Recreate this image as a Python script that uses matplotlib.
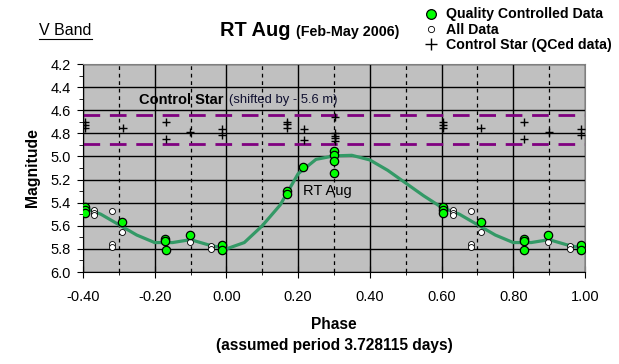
import numpy as np
import matplotlib
matplotlib.use('Agg')
import matplotlib.pyplot as plt
from matplotlib.lines import Line2D
from matplotlib.ticker import MultipleLocator, FormatStrFormatter

plt.rcParams['font.family'] = ['Liberation Sans', 'DejaVu Sans']

# Quality controlled data (phase 0..1, V magnitude)
qc_phase = [0.168, 0.168, 0.214, 0.301, 0.301, 0.301, 0.301, 0.605, 0.605, 0.605,
            0.709, 0.830, 0.830, 0.831, 0.898, 0.989, 0.989]
qc_mag = [5.30, 5.325, 5.09, 4.95, 4.99, 5.04, 5.14, 5.44, 5.465, 5.49,
          5.565, 5.71, 5.73, 5.81, 5.68, 5.77, 5.81]

# extra points present only in "All Data"
all_phase = [0.631, 0.631, 0.631, 0.681, 0.709, 0.681, 0.681, 0.830, 0.898, 0.958, 0.958]
all_mag = [5.46, 5.485, 5.51, 5.47, 5.65, 5.755, 5.78, 5.74, 5.74, 5.775, 5.80]

# Control star (shifted by -5.6 m)
cs_phase = [0.168, 0.168, 0.168, 0.216, 0.216, 0.303, 0.303, 0.303, 0.303, 0.303,
            0.605, 0.605, 0.605, 0.711, 0.831, 0.831, 0.899, 0.989, 0.989]
cs_mag = [4.70, 4.72, 4.75, 4.765, 4.86, 4.655, 4.80, 4.82, 4.84, 4.87,
          4.70, 4.725, 4.75, 4.756, 4.705, 4.845, 4.79, 4.762, 4.814]

# fitted light curve
fit_phase = [0.00, 0.05, 0.10, 0.15, 0.20, 0.25, 0.30, 0.35, 0.40, 0.45, 0.50,
             0.55, 0.60, 0.65, 0.70, 0.75, 0.80, 0.85, 0.90, 0.95, 1.00]
fit_mag = [5.80, 5.745, 5.60, 5.42, 5.15, 5.025, 4.995, 4.99, 5.03, 5.12, 5.23,
           5.34, 5.44, 5.50, 5.59, 5.68, 5.745, 5.745, 5.72, 5.765, 5.80]

control_band = [4.645, 4.89]


def wrap(phase, mag):
    # show phases >= 0.6 a second time at phase - 1
    p = np.array(phase)
    m = np.array(mag)
    sel = p >= 0.6
    return np.concatenate([p[sel] - 1, p]), np.concatenate([m[sel], m])


fig = plt.figure(figsize=(6.19, 3.64), dpi=100)
ax = fig.add_axes([0.134, 0.2527, 0.811, 0.5714])
ax.set_facecolor('#c0c0c0')

ax.set_xlim(-0.4, 1.0)
ax.set_ylim(6.0, 4.2)
ax.xaxis.set_major_locator(MultipleLocator(0.2))
ax.xaxis.set_minor_locator(MultipleLocator(0.1))
ax.yaxis.set_major_locator(MultipleLocator(0.2))
ax.yaxis.set_minor_locator(MultipleLocator(0.1))
ax.xaxis.set_major_formatter(FormatStrFormatter('%.2f'))
ax.yaxis.set_major_formatter(FormatStrFormatter('%.1f'))

# grid: solid at 0.2 steps, dashed vertical at the odd 0.1 steps
ax.grid(True, which='major', color='black', linewidth=1, linestyle='-')
for xv in np.arange(-0.3, 1.0, 0.2):
    ax.axvline(xv, color='black', linewidth=0.9, linestyle=(0, (3, 3)), zorder=1)
ax.set_axisbelow(True)

for yv in control_band:
    ax.axhline(yv, color='#800080', linewidth=2, linestyle=(0, (6, 3.5)), zorder=2)

xf, yf = wrap(fit_phase[:-1], fit_mag[:-1])
xf = np.append(xf, fit_phase[-1])
yf = np.append(yf, fit_mag[-1])
order = np.argsort(xf, kind='stable')
ax.plot(xf[order], yf[order], color='#339966', linewidth=2.3, zorder=3)

xa, ya = wrap(all_phase + qc_phase, all_mag + qc_mag)
ax.plot(xa, ya, 'o', markersize=4.3, markerfacecolor='white', markeredgecolor='black',
        markeredgewidth=0.6, zorder=4)
xq, yq = wrap(qc_phase, qc_mag)
ax.plot(xq, yq, 'o', markersize=6, markerfacecolor='#00ff00', markeredgecolor='black',
        markeredgewidth=0.9, zorder=5)
xc, yc = wrap(cs_phase, cs_mag)
ax.plot(xc, yc, '+', markersize=6, color='black', markeredgewidth=1, zorder=5)

ax.tick_params(axis='both', which='major', labelsize=10.5, color='black')
ax.tick_params(axis='x', which='both', direction='inout')
ax.tick_params(axis='x', which='major', length=8, pad=9)
ax.tick_params(axis='x', which='minor', length=4)
ax.tick_params(axis='y', which='major', length=4, pad=5)
ax.tick_params(axis='y', which='minor', length=3)
for s in ['top', 'right']:
    ax.spines[s].set_color('#808080')
for s in ['left', 'bottom']:
    ax.spines[s].set_color('black')

ax.set_ylabel('Magnitude', fontsize=11.3, fontweight='bold', labelpad=7)
ax.set_xlabel('Phase\n(assumed period 3.728115 days)', fontsize=11.2,
              fontweight='bold', linespacing=1.5, labelpad=9)

ax.text(-0.244, 4.51, 'Control Star', fontsize=10.5, fontweight='bold', va='center')
ax.text(0.007, 4.51, '(shifted by - 5.6 m)', fontsize=9.4, va='center', color='#101030')
ax.text(0.215, 5.3, 'RT Aug', fontsize=10.5, va='center')

# title block
fig.text(0.355, 0.917, 'RT Aug', fontsize=14.4, fontweight='bold', va='center')
fig.text(0.478, 0.911, '(Feb-May 2006)', fontsize=10.3, fontweight='bold', va='center')
fig.text(0.063, 0.915, 'V Band', fontsize=11.5, va='center')
fig.add_artist(Line2D([0.063, 0.149], [0.893, 0.893], color='black', linewidth=0.8))

handles = [
    Line2D([], [], marker='o', linestyle='none', markersize=7,
           markerfacecolor='#00ff00', markeredgecolor='black', markeredgewidth=0.9),
    Line2D([], [], marker='o', linestyle='none', markersize=4.5,
           markerfacecolor='white', markeredgecolor='black', markeredgewidth=0.6),
    Line2D([], [], marker='+', linestyle='none', markersize=8, color='black',
           markeredgewidth=1),
]
fig.legend(handles, ['Quality Controlled Data', 'All Data', 'Control Star (QCed data)'],
           loc='upper left', bbox_to_anchor=(0.672, 0.995), frameon=False,
           prop={'weight': 'bold', 'size': 10.2}, handletextpad=0.45,
           labelspacing=0.08, handlelength=1.3, borderaxespad=0)

fig.savefig('out.png', dpi=100)
